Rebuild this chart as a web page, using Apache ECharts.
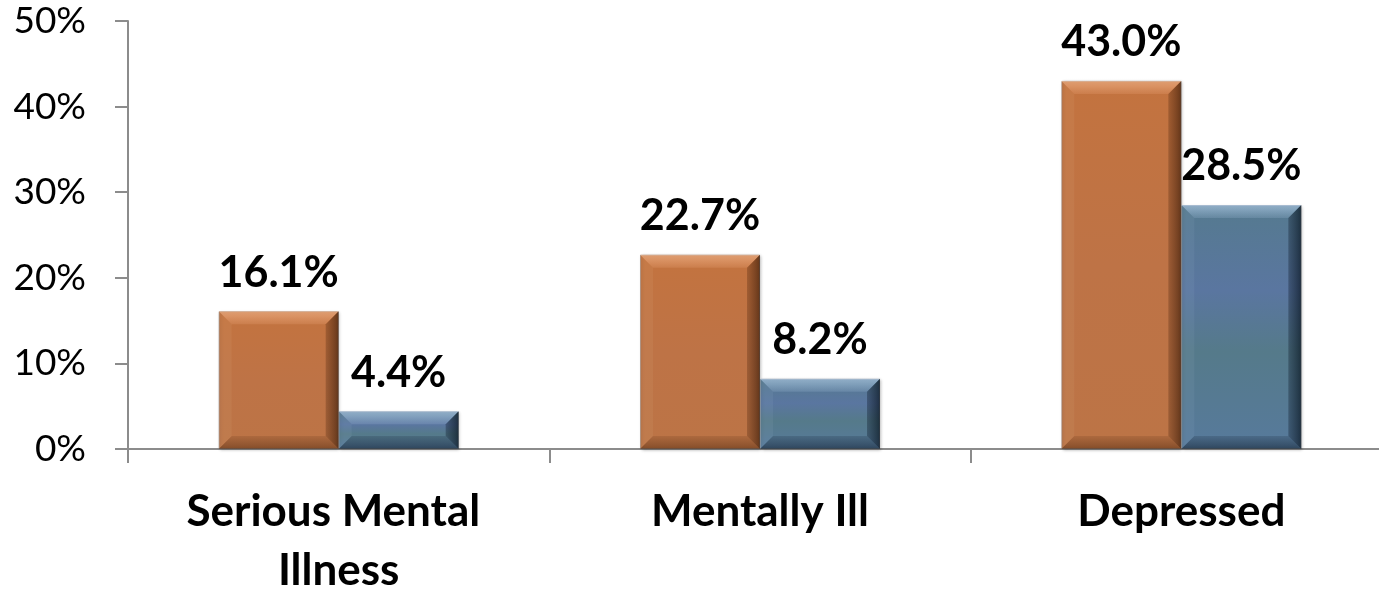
<!DOCTYPE html>
<html>
<head>
<meta charset="utf-8">
<script src="https://cdn.jsdelivr.net/npm/echarts@6/dist/echarts.min.js"></script>
<style>
html,body{margin:0;padding:0;background:#fff;}
#chart{width:1379px;height:590px;}
</style>
</head>
<body>
<div id="chart"></div>
<script>
var categories = ["Serious Mental Illness", "Mentally Ill", "Depressed"];
var seriesA = [16.1, 22.7, 43.0];
var seriesB = [4.4, 8.2, 28.5];
var yTicks = [0, 10, 20, 30, 40, 50];

var BAR_W = 120;
var BEVEL = 13;

var chart = echarts.init(document.getElementById('chart'));

function lg(x2, y2, stops) {
  return new echarts.graphic.LinearGradient(0, 0, x2, y2, stops.map(function (s) { return { offset: s[0], color: s[1] }; }));
}

var orangeFace = lg(0, 1, [[0, '#c3733f'], [0.5, '#be7346'], [1, '#bc7446']]);
var blueFace = lg(0, 1, [[0, '#557a8f'], [0.35, '#5a76a0'], [0.6, '#557a8a'], [1, '#577a9c']]);

var labelStyle = {
  show: true,
  position: 'top',
  distance: 17,
  fontFamily: 'Lato',
  fontWeight: 'bold',
  fontSize: 43,
  color: '#000',
  formatter: function (p) { return p.value.toFixed(1) + '%'; }
};

function bevelSeries(values, side, colors) {
  return {
    type: 'custom',
    silent: true,
    z: 3,
    data: values.map(function (v, i) { return [i, v]; }),
    renderItem: function (params, api) {
      var base = api.coord([api.value(0), 0]);
      var top = api.coord([api.value(0), api.value(1)]);
      var cx = base[0];
      var x0 = side < 0 ? cx - BAR_W : cx;
      var x1 = x0 + BAR_W;
      var y0 = top[1];
      var y1 = base[1];
      var b = Math.min(BEVEL, (y1 - y0) / 2, BAR_W / 2);
      function poly(pts, fill) {
        return { type: 'polygon', shape: { points: pts }, style: { fill: fill }, silent: true };
      }
      return {
        type: 'group',
        children: [
          poly([[x0, y0], [x1, y0], [x1 - b, y0 + b], [x0 + b, y0 + b]], colors.top),
          poly([[x0, y0], [x0 + b, y0 + b], [x0 + b, y1 - b], [x0, y1]], colors.left),
          poly([[x1, y0], [x1, y1], [x1 - b, y1 - b], [x1 - b, y0 + b]], colors.right),
          poly([[x0, y1], [x0 + b, y1 - b], [x1 - b, y1 - b], [x1, y1]], colors.bottom)
        ]
      };
    }
  };
}

var orangeBevel = {
  top: lg(0, 1, [[0, 'rgba(255,200,160,0.55)'], [1, 'rgba(255,190,150,0.15)']]),
  left: 'rgba(255,230,210,0.06)',
  right: lg(1, 0, [[0, 'rgba(60,25,5,0.25)'], [1, 'rgba(40,15,0,0.6)']]),
  bottom: lg(0, 1, [[0, 'rgba(60,25,5,0.12)'], [1, 'rgba(50,20,0,0.4)']])
};
var blueBevel = {
  top: lg(0, 1, [[0, 'rgba(200,225,255,0.55)'], [1, 'rgba(190,215,245,0.15)']]),
  left: 'rgba(220,235,255,0.06)',
  right: lg(1, 0, [[0, 'rgba(5,15,30,0.3)'], [1, 'rgba(0,10,20,0.65)']]),
  bottom: lg(0, 1, [[0, 'rgba(5,15,30,0.15)'], [1, 'rgba(0,10,20,0.45)']])
};

chart.setOption({
  animation: false,
  backgroundColor: '#fff',
  grid: { left: 128, top: 21, width: 1264, height: 428, containLabel: false, outerBoundsMode: 'none' },
  xAxis: {
    type: 'category',
    data: categories,
    axisLine: { show: true, lineStyle: { color: '#8c8c8c', width: 2 } },
    axisTick: { show: true, length: 14, alignWithLabel: false, lineStyle: { color: '#8c8c8c', width: 2 } },
    axisLabel: {
      margin: 33,
      fontFamily: 'Lato',
      fontWeight: 'bold',
      fontSize: 44,
      color: '#000',
      width: 380,
      overflow: 'break',
      lineHeight: 59,
      interval: 0
    },
    splitLine: { show: false }
  },
  yAxis: {
    type: 'value',
    min: yTicks[0],
    max: yTicks[yTicks.length - 1],
    interval: yTicks[1] - yTicks[0],
    axisLine: { show: true, lineStyle: { color: '#8c8c8c', width: 2 } },
    axisTick: { show: true, length: 13, lineStyle: { color: '#8c8c8c', width: 2 } },
    axisLabel: {
      margin: 42,
      fontFamily: 'Lato',
      fontSize: 37,
      color: '#000',
      formatter: '{value}%'
    },
    splitLine: { show: false }
  },
  series: [
    {
      type: 'bar',
      data: seriesA,
      barWidth: BAR_W,
      barGap: '0%',
      z: 2,
      itemStyle: {
        color: orangeFace,
        borderColor: 'rgba(140,120,110,0.6)',
        borderWidth: 1,
        shadowColor: 'rgba(0,0,0,0.25)',
        shadowBlur: 3,
        shadowOffsetX: 1,
        shadowOffsetY: 1
      },
      label: labelStyle
    },
    {
      type: 'bar',
      data: seriesB,
      barWidth: BAR_W,
      barGap: '0%',
      z: 2,
      itemStyle: {
        color: blueFace,
        borderColor: 'rgba(110,120,130,0.6)',
        borderWidth: 1,
        shadowColor: 'rgba(0,0,0,0.25)',
        shadowBlur: 3,
        shadowOffsetX: 1,
        shadowOffsetY: 1
      },
      label: labelStyle
    },
    bevelSeries(seriesA, -1, orangeBevel),
    bevelSeries(seriesB, 1, blueBevel)
  ]
});
</script>
</body>
</html>
